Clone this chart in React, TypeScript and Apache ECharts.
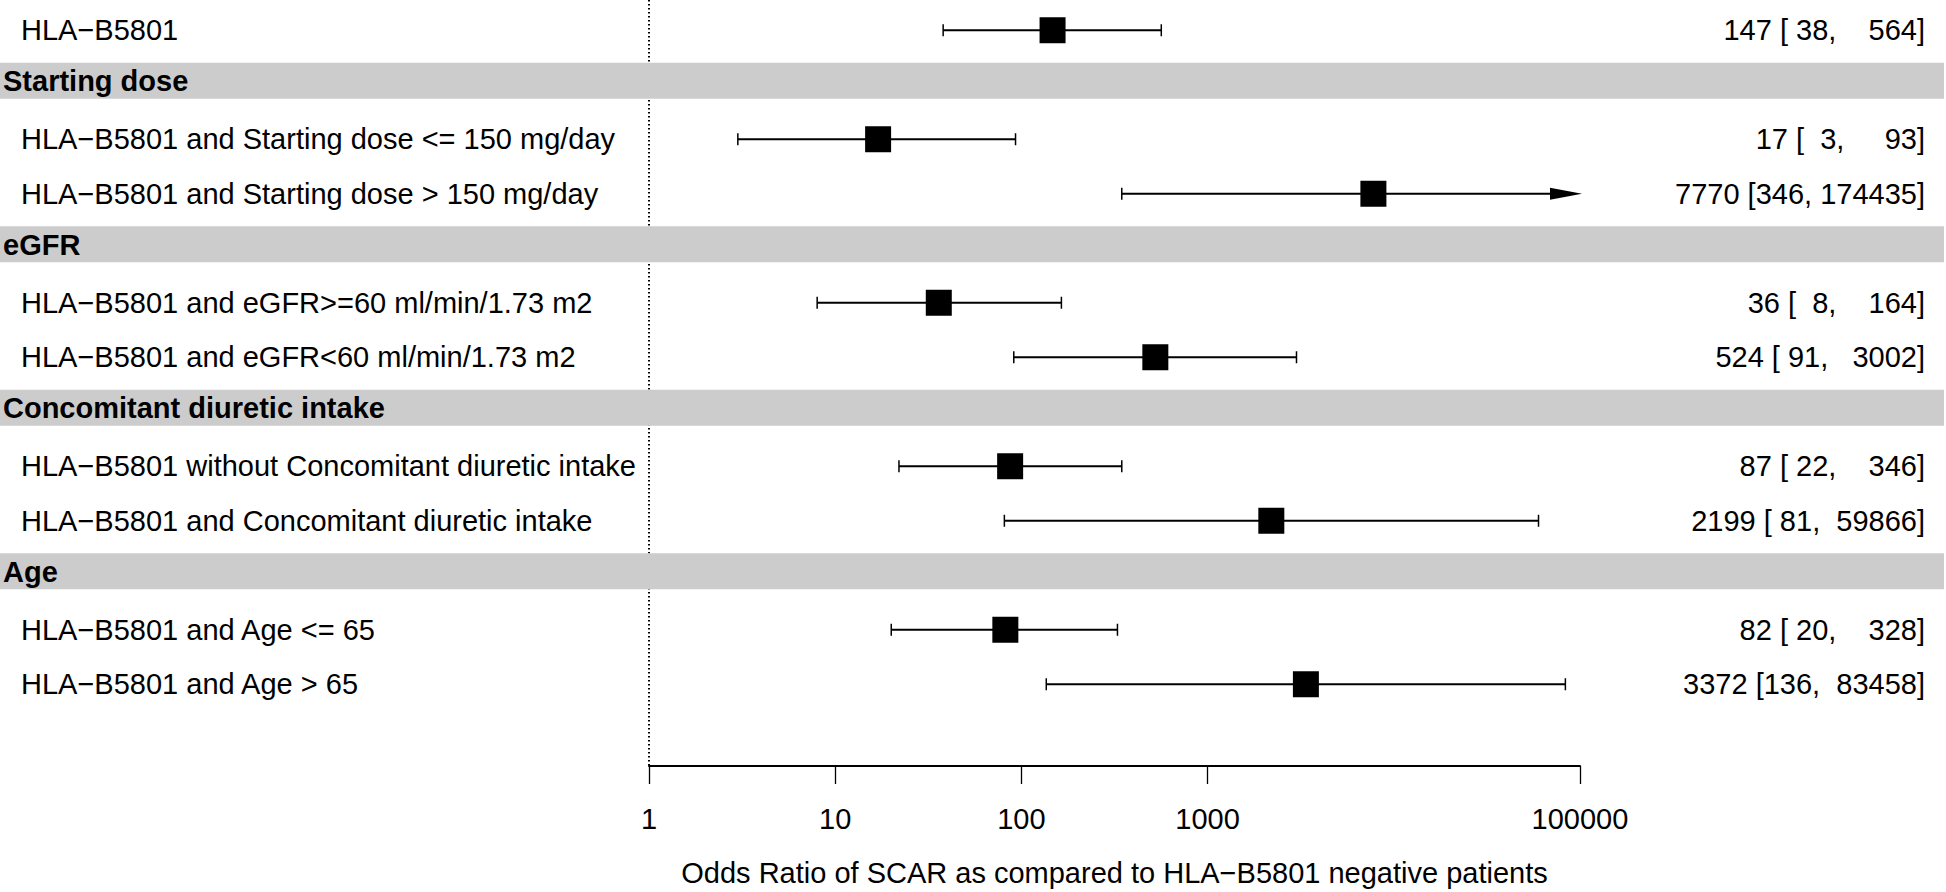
import React, { useEffect, useRef } from "react";
import * as echarts from "echarts";

const FONT = '"Liberation Sans", Arial, Helvetica, sans-serif';

// ---- data ----
const rowLabels = [
  "HLA\u2212B5801",
  "Starting dose",
  "HLA\u2212B5801 and Starting dose <= 150 mg/day",
  "HLA\u2212B5801 and Starting dose > 150 mg/day",
  "eGFR",
  "HLA\u2212B5801 and eGFR>=60 ml/min/1.73 m2",
  "HLA\u2212B5801 and eGFR<60 ml/min/1.73 m2",
  "Concomitant diuretic intake",
  "HLA\u2212B5801 without Concomitant diuretic intake",
  "HLA\u2212B5801 and Concomitant diuretic intake",
  "Age",
  "HLA\u2212B5801 and Age <= 65",
  "HLA\u2212B5801 and Age > 65",
  "",
];
const headerRows = [1, 4, 7, 10];
const estimateRows = [0, 2, 3, 5, 6, 8, 9, 11, 12];
const oddsRatio = [147, 17, 7770, 36, 524, 87, 2199, 82, 3372];
const ciLower = [38, 3, 346, 8, 91, 22, 81, 20, 136];
const ciUpper = [564, 93, 174435, 164, 3002, 346, 59866, 328, 83458];
const xTicks = [1, 10, 100, 1000, 100000];
const X_MIN = 1;
const X_MAX = 100000;
const xTitle = "Odds Ratio of SCAR as compared to HLA\u2212B5801 negative patients";

const pad = (v: number, w: number) => {
  const s = String(v);
  return s.length >= w ? s : " ".repeat(w - s.length) + s;
};

const rightLabels = rowLabels.map((_, i) => {
  const k = estimateRows.indexOf(i);
  if (k < 0) return "";
  return `${oddsRatio[k]} [${pad(ciLower[k], 3)}, ${pad(ciUpper[k], 6)}]`;
});

const ciData = estimateRows.map((r, k) => [oddsRatio[k], ciLower[k], ciUpper[k], r]);
const bandData = headerRows.map((r) => [1, r]);

export default function App() {
  const ref = useRef<HTMLDivElement>(null);
  useEffect(() => {
    const chart = echarts.init(ref.current!, null, { renderer: "svg" });
    const option: any = {
      animation: false,
      backgroundColor: "#ffffff",
      grid: { left: 648, right: 366, top: 3, bottom: 125, containLabel: false },
      xAxis: {
        type: "log",
        logBase: 10,
        min: X_MIN,
        max: X_MAX,
        splitLine: { show: false },
        axisLine: { show: true, lineStyle: { color: "#000", width: 2 } },
        axisTick: { show: true, length: 18, lineStyle: { color: "#000", width: 1.3 }, customValues: xTicks },
        axisLabel: {
          customValues: xTicks,
          formatter: (v: number) => String(Math.round(v)),
          margin: 38,
          fontSize: 29,
          color: "#000",
          fontFamily: FONT,
        },
        name: xTitle,
        nameLocation: "middle",
        nameGap: 92,
        nameTextStyle: { fontSize: 29, color: "#000", fontFamily: FONT },
      },
      yAxis: [
        {
          type: "category",
          data: rowLabels,
          inverse: true,
          position: "left",
          z: 6,
          axisLine: { show: false },
          axisTick: { show: false },
          splitLine: { show: false },
          axisLabel: {
            interval: 0,
            align: "left",
            margin: 646,
            fontSize: 29,
            color: "#000",
            fontFamily: FONT,
            formatter: (v: string, i: number) => {
              if (!v) return "";
              return headerRows.indexOf(i) >= 0 ? `{h|${v}}` : `{r|${v}}`;
            },
            rich: {
              h: { fontSize: 29, fontWeight: "bold", color: "#000", fontFamily: FONT, padding: [0, 0, 7, 0] },
              r: { fontSize: 29, color: "#000", fontFamily: FONT, padding: [0, 0, 0, 18] },
            },
          },
        },
        {
          type: "category",
          data: rightLabels,
          inverse: true,
          position: "right",
          z: 6,
          axisLine: { show: false },
          axisTick: { show: false },
          splitLine: { show: false },
          axisLabel: {
            interval: 0,
            align: "right",
            margin: 345,
            fontSize: 29,
            color: "#000",
            fontFamily: FONT,
          },
        },
      ],
      series: [
        {
          type: "custom",
          z: 1,
          silent: true,
          encode: { x: 0, y: 1 },
          data: [[1, 0]],
          renderItem: (params: any, api: any) => {
            const x = api.coord([X_MIN, 0])[0];
            const cs = params.coordSys;
            return {
              type: "line",
              shape: { x1: x, y1: 0, x2: x, y2: cs.y + cs.height },
              style: { stroke: "#000", lineWidth: 2, lineDash: [1.6, 2.4] },
            };
          },
        },
        {
          type: "custom",
          z: 2,
          silent: true,
          encode: { x: 0, y: 1 },
          data: bandData,
          renderItem: (params: any, api: any) => {
            const cy = api.coord([api.value(0), api.value(1)])[1];
            return {
              type: "rect",
              shape: { x: 0, y: cy - 22, width: api.getWidth() - 2, height: 36 },
              style: { fill: "#cccccc" },
            };
          },
        },
        {
          type: "custom",
          z: 3,
          silent: true,
          encode: { x: [0, 1, 2], y: 3 },
          data: ciData,
          renderItem: (params: any, api: any) => {
            const or = api.value(0);
            const lo = api.value(1);
            const hi = api.value(2);
            const row = api.value(3);
            const [cx, cy] = api.coord([or, row]);
            const xl = api.coord([lo, row])[0];
            const clipped = hi > X_MAX;
            const xh = api.coord([clipped ? X_MAX : hi, row])[0];
            const children: any[] = [];
            children.push({
              type: "line",
              shape: { x1: xl, y1: cy, x2: clipped ? xh - 28 : xh, y2: cy },
              style: { stroke: "#000", lineWidth: 2 },
            });
            children.push({
              type: "line",
              shape: { x1: xl, y1: cy - 6, x2: xl, y2: cy + 6 },
              style: { stroke: "#000", lineWidth: 1.5 },
            });
            if (clipped) {
              children.push({
                type: "polygon",
                shape: { points: [[xh - 30, cy - 6], [xh + 2, cy], [xh - 30, cy + 6]] },
                style: { fill: "#000" },
              });
            } else {
              children.push({
                type: "line",
                shape: { x1: xh, y1: cy - 6, x2: xh, y2: cy + 6 },
                style: { stroke: "#000", lineWidth: 1.5 },
              });
            }
            children.push({
              type: "rect",
              shape: { x: cx - 13, y: cy - 13, width: 26, height: 26 },
              style: { fill: "#000" },
            });
            return { type: "group", children };
          },
        },
      ],
    };
    chart.setOption(option);
    return () => chart.dispose();
  }, []);
  return (
    <div
      ref={ref}
      style={{ position: "absolute", left: 0, top: 0, width: 1946, height: 892, background: "#fff" }}
    />
  );
}
